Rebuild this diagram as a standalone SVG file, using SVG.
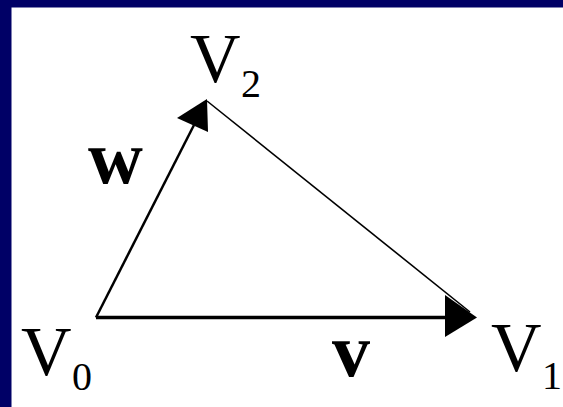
<svg xmlns="http://www.w3.org/2000/svg" width="563" height="407" viewBox="0 0 563 407">
<style>
.v{font-family:"Liberation Serif","Times New Roman",serif;font-size:70px;fill:#000}
.sub{font-family:"Liberation Serif","Times New Roman",serif;font-size:40px;fill:#000}
.lab{font-family:"Liberation Serif","Times New Roman",serif;font-size:76px;font-weight:bold;fill:#000}
.edge{stroke:#000;fill:none}
.head{fill:#000;stroke:none}
</style>
<rect x="0" y="0" width="563" height="407" fill="#fff"/>
<rect x="0" y="0" width="563" height="7.5" fill="#000066"/>
<rect x="0" y="0" width="11.5" height="407" fill="#000066"/>
<g id="connectors">
<line class="edge" x1="96" y1="317.5" x2="448" y2="317.5" stroke-width="3.5"/>
<polygon class="head" points="477,317.5 445,295 445,337"/>
<line class="edge" x1="96" y1="317.5" x2="194" y2="125" stroke-width="2.5"/>
<polygon class="head" points="207,99 177,118 208,132"/>
<line class="edge" x1="207" y1="101" x2="470" y2="312" stroke-width="1.6"/>
<text class="lab" x="88" y="183">w</text>
<text class="lab" x="332" y="376">v</text>
</g>
<g id="V0"><text class="v" x="21" y="375">V</text><text class="sub" x="72" y="390">0</text></g>
<g id="V1"><text class="v" x="491" y="371">V</text><text class="sub" x="542" y="389">1</text></g>
<g id="V2"><text class="v" x="190" y="82">V</text><text class="sub" x="241" y="97">2</text></g>
</svg>
